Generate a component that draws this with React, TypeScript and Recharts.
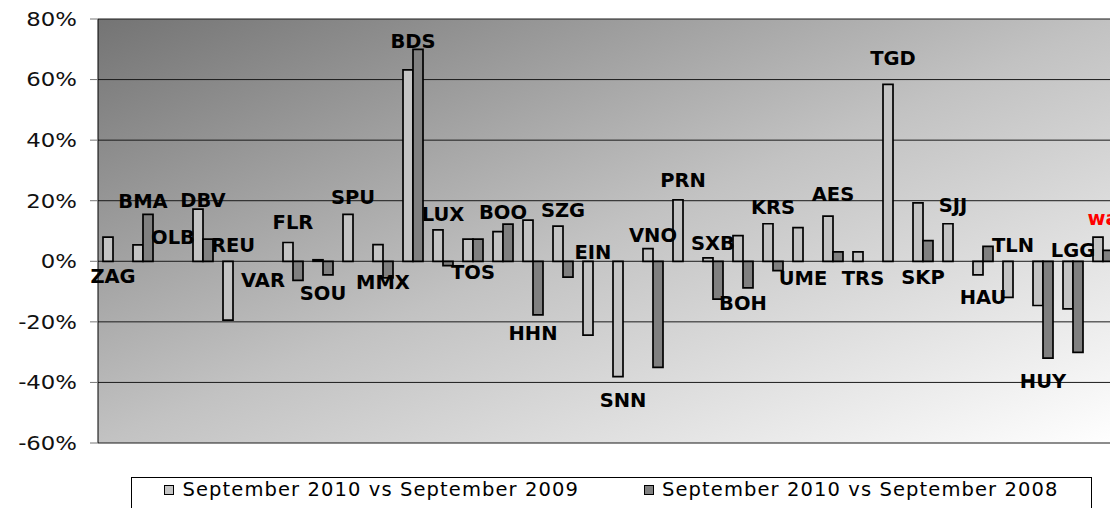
import React from 'react';
import { ComposedChart, Bar, Line, XAxis, YAxis, CartesianGrid, Legend, LabelList } from 'recharts';

const categories = ['ZAG','BMA','OLB','DBV','REU','VAR','FLR','SOU','SPU','MMX','BDS','LUX','TOS','BOO','HHN','SZG','EIN','SNN','VNO','PRN','SXB','BOH','KRS','UME','AES','TRS','TGD','SKP','SJJ','HAU','TLN','HUY','LGG','wa'];
const vs2009 = [8.0, 5.4, null, 17.2, -19.4, null, 6.2, 0.5, 15.5, 5.5, 63.2, 10.4, 7.3, 9.8, 13.6, 11.6, -24.4, -38.1, 4.2, 20.3, 1.1, 8.5, 12.4, 11.1, 14.9, 3.1, 58.4, 19.3, 12.4, -4.5, -11.9, -14.6, -15.7, 8.0];
const vs2008 = [null, 15.5, null, 7.3, null, null, -6.3, -4.5, null, -5.5, 70.0, -1.4, 7.3, 12.3, -17.7, -5.2, null, null, -35.0, null, -12.5, -8.8, -3.1, null, 3.1, null, null, 6.8, null, 4.9, null, -32.0, -30.1, 3.6];
const labelLevels = [-4.8, 20, 8, 20.2, 5.4, -6.2, 13, -10.5, 21.2, -6.8, 72.7, 15.6, -3.5, 16.3, -23.7, 17, 3, -45.8, 8.7, 26.8, 6, -13.8, 17.9, -5.5, 22.2, -5.5, 67.1, -5.2, 18.6, -11.8, 5.4, -39.5, 3.7, 14.3];
const yTicks = [-60, -40, -20, 0, 20, 40, 60, 80];
const seriesNames = ['September 2010 vs September 2009', 'September 2010 vs September 2008'];
const highlighted = ['wa'];

const data = categories.map((name, i) => ({
  name,
  a: vs2009[i],
  b: vs2008[i],
  lbl: labelLevels[i],
}));

const FONT = '"DejaVu Sans", Verdana, sans-serif';
const LIGHT = '#c4c4c4';
const DARK = '#808080';

const YTick = (props: any) => {
  const { x, y, payload } = props;
  return (
    <g transform={`translate(${x},${y}) scale(1.2,1)`}>
      <text x={0} y={0} dy="0.36em" textAnchor="end" fontSize={19} fill="#111" fontFamily={FONT}>
        {payload.value}%
      </text>
    </g>
  );
};

const NameLabel = (props: any) => {
  const { x, y, value } = props;
  const red = highlighted.includes(value);
  return (
    <text x={x} y={y} dy="0.36em" textAnchor="middle" fontSize={19.5} fontWeight="bold" fill={red ? '#ff0000' : '#000'} fontFamily={FONT}>
      {value}
    </text>
  );
};

const LegendBox = () => (
  <div style={{
    width: '100%', height: 60, boxSizing: 'border-box', border: '1px solid #000', background: '#fff',
    display: 'flex', justifyContent: 'space-around', alignItems: 'flex-start', paddingTop: 0,
    fontFamily: FONT, fontSize: 19.5, letterSpacing: 1.1, color: '#000',
  }}>
    {[LIGHT, DARK].map((c, i) => (
      <div key={i} style={{ display: 'flex', alignItems: 'center', lineHeight: '24px' }}>
        <span style={{ display: 'inline-block', width: 8, height: 8, background: c, border: '1.5px solid #000', marginRight: 8 }} />
        <span>{seriesNames[i]}</span>
      </div>
    ))}
  </div>
);

export default function App() {
  return (
    <div style={{ position: 'fixed', left: 0, top: 0, width: 1110, height: 508, overflow: 'hidden', background: '#fff' }}>
      <ComposedChart width={1120} height={508} data={data} margin={{ top: 19, right: 2, bottom: 25, left: 8 }} barGap={0} barSize={10}>
        <defs>
          <linearGradient id="bgGrad" x1="0" y1="0" x2="1" y2="1">
            <stop offset="0%" stopColor="#747474" />
            <stop offset="50%" stopColor="#c2c2c2" />
            <stop offset="100%" stopColor="#ffffff" />
          </linearGradient>
        </defs>
        <CartesianGrid vertical={false} horizontal={true} stroke="#1a1a1a" strokeWidth={1} fill="url(#bgGrad)" />
        <XAxis dataKey="name" type="category" hide />
        <YAxis
          type="number"
          domain={[-60, 80]}
          ticks={yTicks}
          interval={0}
          width={90}
          tickSize={8}
          tickMargin={13}
          tick={<YTick />}
          axisLine={{ stroke: '#000', strokeWidth: 1 }}
          tickLine={{ stroke: '#777', strokeWidth: 1 }}
          allowDataOverflow
        />
        <Legend
          verticalAlign="bottom"
          content={<LegendBox />}
          wrapperStyle={{ top: 477, left: 131, width: 961, height: 40 }}
        />
        <Bar dataKey="a" name={seriesNames[0]} fill={LIGHT} stroke="#000" strokeWidth={1.7} isAnimationActive={false} />
        <Bar dataKey="b" name={seriesNames[1]} fill={DARK} stroke="#000" strokeWidth={1.7} isAnimationActive={false} />
        <Line dataKey="lbl" stroke="none" dot={false} activeDot={false} legendType="none" isAnimationActive={false}>
          <LabelList dataKey="name" content={<NameLabel />} />
        </Line>
      </ComposedChart>
    </div>
  );
}
